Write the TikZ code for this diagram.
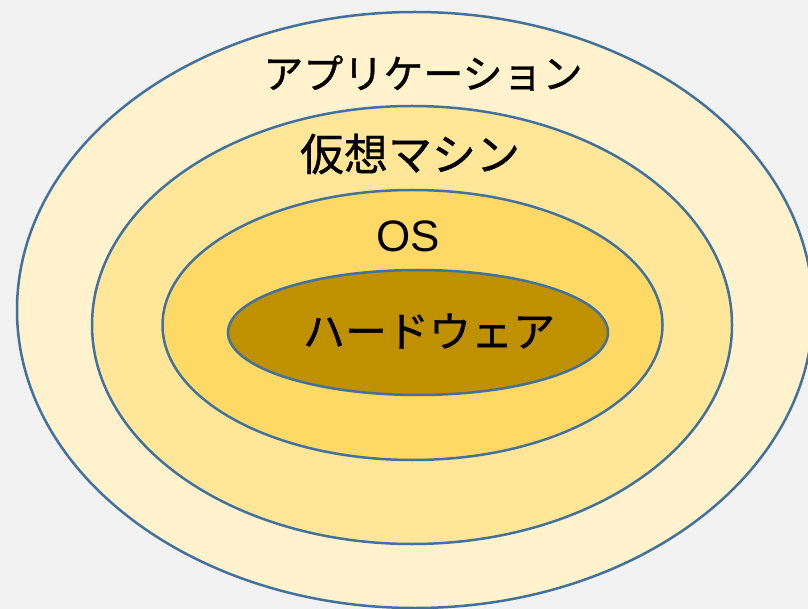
\documentclass[tikz,border=0pt]{standalone}
\usepackage{fontspec}
\newfontfamily\jpfont[FakeBold=0.8]{Noto Sans CJK JP}
\newfontfamily\latinfont{Liberation Sans}
\definecolor{bgc}{HTML}{F2F2F2}
\definecolor{ring1}{HTML}{FFF2CC}
\definecolor{ring2}{HTML}{FFE699}
\definecolor{ring3}{HTML}{FFD966}
\definecolor{ring4}{HTML}{BF9000}
\definecolor{edge}{HTML}{41719C}
\tikzset{
  layer/.style={draw=edge, line width=2.5pt},
  lbl/.style={inner sep=0pt, font=\jpfont\fontsize{40}{40}\selectfont, text=black},
}
\begin{document}
\begin{tikzpicture}[x=1pt,y=-1pt]
\fill[bgc] (0,0) rectangle (808,609);
\useasboundingbox (0,0) rectangle (808,609);
\clip (0,0) rectangle (808,609);
\filldraw[layer, fill=ring1] (415,310) ellipse [x radius=398, y radius=298];
\filldraw[layer, fill=ring2] (412,325) ellipse [x radius=320, y radius=219];
\filldraw[layer, fill=ring3] (412.5,325) ellipse [x radius=250, y radius=135];
\filldraw[layer, fill=ring4] (418,332.5) ellipse [x radius=190, y radius=62.5];
\node[lbl] (app) at (423,73) {アプリケーション};
\node[lbl, font=\jpfont\fontsize{44}{44}\selectfont] (vm) at (410,154) {仮想マシン};
\node[lbl, font=\latinfont\fontsize{44}{44}\selectfont] (os) at (408,236) {OS};
\node[lbl, font=\jpfont\fontsize{42}{42}\selectfont] (hw) at (429,331) {ハードウェア};
\end{tikzpicture}
\end{document}
